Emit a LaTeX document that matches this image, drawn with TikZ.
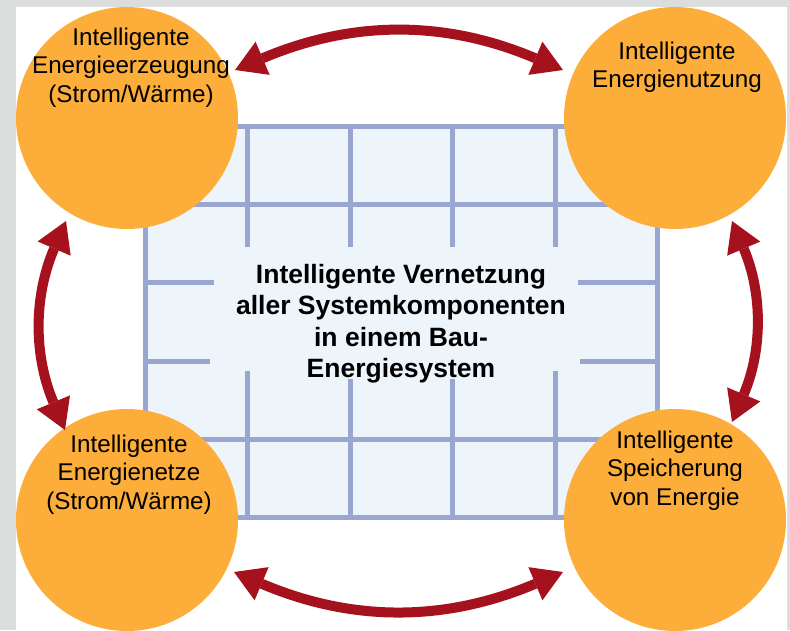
\documentclass[tikz,border=0pt]{standalone}
\usepackage{fontspec}
\setmainfont{Liberation Sans}
\usetikzlibrary{arrows.meta}
\definecolor{bggray}{RGB}{220,221,221}
\definecolor{orb}{RGB}{252,173,58}
\definecolor{arrowred}{RGB}{165,17,28}
\definecolor{gridline}{RGB}{153,166,210}
\definecolor{gridfill}{RGB}{238,245,250}
\tikzset{
  orbnode/.style={circle, fill=orb, minimum size=222pt, inner sep=0pt, draw=none},
  ctext/.style={font=\fontsize{24.2}{28.7}\selectfont, align=center, inner sep=0pt, anchor=north, text=black},
  mtext/.style={font=\bfseries\fontsize{26.5}{31.3}\selectfont, align=center, inner sep=0pt, anchor=north, text=black},
  gline/.style={draw=gridline, line width=5pt},
  dblarrow/.style={draw=arrowred, line width=10pt,
    {Triangle[length=30pt,width=36pt,line width=0pt]}-{Triangle[length=30pt,width=36pt,line width=0pt]}}
}
\begin{document}
\begin{tikzpicture}[x=1pt,y=-1pt]
\useasboundingbox (0,0) rectangle (790,630);
\fill[bggray] (0,0) rectangle (790,630);
\fill[white] (16,7) rectangle (787,630);
% grid
\draw[gline, fill=gridfill] (145,126) rectangle (657,517.6);
\draw[gline] (145,204.3) -- (657,204.3);
\draw[gline] (145,439.3) -- (657,439.3);
\foreach \x in {247,350,452,555} \draw[gline] (\x,126) -- (\x,247);
\draw[gline] (247,371) -- (247,517.6);
\draw[gline] (555,371) -- (555,517.6);
\draw[gline] (350,379) -- (350,517.6);
\draw[gline] (452,379) -- (452,517.6);
\draw[gline] (145,282.6) -- (214,282.6);
\draw[gline] (578,282.6) -- (657,282.6);
\draw[gline] (145,361) -- (210,361);
\draw[gline] (580,361) -- (657,361);
% circles
\node[orbnode] (gen) at (127,118) {};
\node[orbnode] (use) at (675,118) {};
\node[orbnode] (net) at (127,520) {};
\node[orbnode] (sto) at (675,520) {};
% texts
\node[ctext] (gentxt) at (131,27.5) {Intelligente\\Energieerzeugung\\(Strom/Wärme)};
\node[ctext] (usetxt) at (677,41.5) {Intelligente\\Energienutzung};
\node[ctext] (nettxt) at (129,434.5) {Intelligente\\Energienetze\\(Strom/Wärme)};
\node[ctext] (stotxt) at (675,430.5) {Intelligente\\Speicherung\\von Energie};
\node[mtext] (center) at (401,264) {Intelligente Vernetzung\\aller Systemkomponenten\\in einem Bau-\\Energiesystem};
% arrows
\coordinate (a1) at (235,70);
\coordinate (a2) at (563,70);
\coordinate (b1) at (234,572);
\coordinate (b2) at (563,572);
\coordinate (c1) at (66,221);
\coordinate (c2) at (65,430);
\coordinate (d1) at (732,221);
\coordinate (d2) at (732,422);
\draw[dblarrow] (a1) to[bend left=23] (a2);
\draw[dblarrow] (b1) to[bend right=23] (b2);
\draw[dblarrow] (c1) to[bend right=23] (c2);
\draw[dblarrow] (d1) to[bend left=23] (d2);
\end{tikzpicture}
\end{document}
